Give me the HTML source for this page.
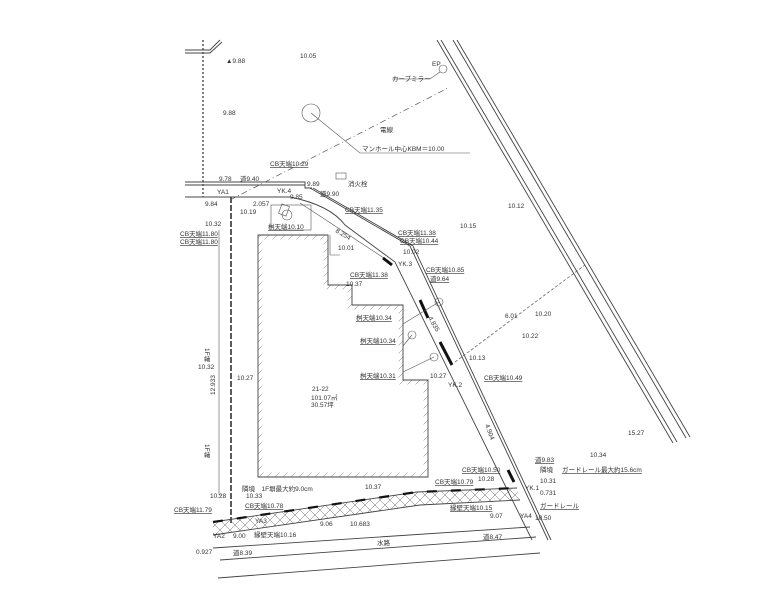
<!DOCTYPE html>
<html><head><meta charset="utf-8"><style>
html,body{margin:0;padding:0;background:#fff}
svg{display:block}
text{font-family:"Liberation Sans","Noto Sans CJK JP",sans-serif;fill:#333;font-size:6.5px}
.l{stroke:#444;stroke-width:0.9;fill:none}
.t{stroke:#555;stroke-width:0.6;fill:none}
</style></head><body>
<svg width="766" height="606" viewBox="0 0 766 606" xmlns="http://www.w3.org/2000/svg">
<defs>
<pattern id="x" width="10" height="10" patternUnits="userSpaceOnUse">
<path d="M0 0 L10 10 M10 0 L0 10" stroke="#666" stroke-width="0.5"/>
</pattern>
<pattern id="h" width="8" height="8" patternUnits="userSpaceOnUse">
<path d="M0 8 L8 0" stroke="#777" stroke-width="0.5"/>
</pattern>
<clipPath id="bc"><path d="M258 235 L328 235 L328 285 L352 285 L352 305 L403 305 L403 380 L428 380 L428 477 L258 477 Z"/></clipPath>
</defs>
<rect width="766" height="606" fill="#fff"/>
<path class="l" d="M437 40 L673 443 M441 40 L677 442 M453 40 L686 438 M457 40 L690 437"/>
<path class="l" d="M290 197 Q330 205 345 225 L395 262 L532 540 M310 188 L410 246 L548 540 M313 188 L413 246 L551 540"/>
<path class="t" d="M300 203 L390 262"/>
<path d="M383 258 L392 265 M420 300 L428 318 M440 342 L452 365 M508 470 L514 482" stroke="#111" stroke-width="3"/>
<path class="l" d="M185 182 L305 182 L305 188 L312 188 M185 185 L305 185 M185 197 L290 197"/>
<path class="l" d="M185 50 L210 50 L220 40 M185 53 L210 53 L222 42"/>
<path d="M203 40 L203 197" stroke="#555" stroke-width="1.5" stroke-dasharray="2 2"/>
<path d="M231 197 L231 525" stroke="#333" stroke-width="1.6" stroke-dasharray="6 2"/>
<path class="t" d="M219 230 L219 495 M219 495 L222 495"/>
<g clip-path="url(#bc)">
<path d="M258 235 L328 235 L328 285 L352 285 L352 305 L403 305 L403 380 L428 380 L428 477 L258 477 Z" fill="none" stroke="url(#h)" stroke-width="9"/>
</g>
<path class="l" d="M258 235 L328 235 L328 285 L352 285 L352 305 L403 305 L403 380 L428 380 L428 477 L258 477 Z"/>
<rect x="271" y="205" width="40" height="25" class="t"/>
<circle cx="287" cy="215" r="5" class="t"/>
<rect x="280" y="205" width="8" height="10" class="t" transform="rotate(20 284 210)"/>
<rect x="336" y="173" width="10" height="6" class="t"/>
<path class="t" d="M330 235 L330 255 L340 255"/>
<circle cx="311" cy="113" r="9" class="t"/>
<path class="t" d="M311 113 L360 153 L470 153"/>
<circle cx="443" cy="69" r="4" class="t"/>
<path class="t" d="M440 72 L430 79 L392 79"/>
<path d="M230 200 L448 88" stroke="#555" stroke-width="0.7" stroke-dasharray="6 3 1 3"/>
<path d="M455 362 L585 265" stroke="#555" stroke-width="0.7" stroke-dasharray="3 2"/>
<path d="M213 522 L417 492 L517 488 L520 500 L420 505 L213 535 Z" fill="url(#x)"/>
<path class="l" d="M213 522 L417 492 L517 488 M213 535 L420 505 L520 500"/>
<path d="M213 522 L417 492 L517 488" stroke="#111" stroke-width="2.2" stroke-dasharray="10 14" fill="none"/>
<path class="l" d="M213 548 L530 527 M220 560 L536 537 M218 578 L540 553"/>
<circle cx="439" cy="302" r="4" class="t"/><circle cx="412" cy="335" r="4" class="t"/><circle cx="434" cy="357" r="4" class="t"/>
<path class="t" d="M403 324 L439 302 M403 346 L412 335 M403 372 L434 357"/>
<text x="226" y="63">▲9.88</text><text x="300" y="58">10.05</text>
<text x="223" y="115">9.88</text><text x="392" y="81">カーブミラー</text><text x="432" y="66" font-size="5">EP</text>
<text x="380" y="132">電線</text>
<text x="362" y="151" font-size="10">マンホール中心KBM＝10.00</text>
<text x="270" y="166" text-decoration="underline">CB天端10.29</text>
<text x="219" y="181">9.78</text><text x="240" y="181">道9.40</text><text x="307" y="186">9.89</text>
<text x="217" y="194">YA1</text><text x="277" y="193">YK.4</text><text x="290" y="199">9.85</text>
<text x="348" y="186">消火栓</text><text x="320" y="196">道9.90</text>
<text x="205" y="206">9.84</text><text x="253" y="206" font-size="9">2.057</text><text x="240" y="214">10.19</text>
<text x="345" y="212" text-decoration="underline">CB天端11.35</text>
<text x="268" y="229" text-decoration="underline">桝天端10.10</text>
<text x="335" y="232" font-size="8" transform="rotate(30 335 232)">8.254</text>
<text x="205" y="226">10.32</text>
<text x="180" y="236" text-decoration="underline">CB天端11.80</text><text x="180" y="244" text-decoration="underline">CB天端11.80</text>
<text x="398" y="235" text-decoration="underline">CB天端11.38</text><text x="400" y="243" text-decoration="underline">CB天端10.44</text>
<text x="338" y="250">10.01</text><text x="403" y="254">10.02</text>
<text x="460" y="228">10.15</text><text x="508" y="208">10.12</text>
<text x="398" y="266">YK.3</text>
<text x="426" y="272" text-decoration="underline">CB天端10.85</text><text x="430" y="281" text-decoration="underline">道9.64</text>
<text x="350" y="277" text-decoration="underline">CB天端11.38</text><text x="346" y="286">10.37</text>
<text x="356" y="320" text-decoration="underline">桝天端10.34</text>
<text x="360" y="343" text-decoration="underline">桝天端10.34</text>
<text x="360" y="378" text-decoration="underline">桝天端10.31</text>
<text x="205" y="348" transform="rotate(90 205 348)">1F塀</text>
<text x="198" y="369">10.32</text><text x="237" y="380">10.27</text>
<text x="428" y="318" transform="rotate(60 428 318)">4.835</text>
<text x="505" y="318">6.01</text><text x="522" y="338">10.22</text><text x="535" y="316">10.20</text>
<text x="469" y="360">10.13</text>
<text x="430" y="378">10.27</text><text x="484" y="380" text-decoration="underline">CB天端10.49</text>
<text x="448" y="387">YK.2</text>
<text x="312" y="391" font-size="10">21-22</text>
<text x="311" y="400" font-size="6">101.07㎡</text><text x="311" y="407" font-size="6">30.57坪</text>
<text x="215" y="395" transform="rotate(-90 215 395)">12.933</text>
<text x="205" y="444" transform="rotate(90 205 444)">1F塀</text>
<text x="485" y="425" transform="rotate(70 485 425)">4.904</text>
<text x="628" y="435">15.27</text><text x="590" y="457">10.34</text>
<text x="535" y="462" text-decoration="underline">道9.83</text>
<text x="462" y="472" text-decoration="underline">CB天端10.50</text>
<text x="540" y="472">隣境</text><text x="562" y="472" text-decoration="underline">ガードレール最大約15.6cm</text>
<text x="478" y="481">10.28</text><text x="435" y="484" text-decoration="underline">CB天端10.79</text>
<text x="540" y="483">10.31</text><text x="525" y="490">YK.1</text>
<text x="242" y="491">隣境　1F塀最大約9.0cm</text><text x="365" y="489">10.37</text>
<text x="540" y="495" font-size="9">0.731</text>
<text x="210" y="498">10.28</text><text x="246" y="498">10.33</text>
<text x="245" y="508" text-decoration="underline">CB天端10.78</text>
<text x="174" y="512" text-decoration="underline">CB天端11.79</text>
<text x="450" y="510" text-decoration="underline">縁壁天端10.15</text>
<text x="540" y="508" text-decoration="underline">ガードレール</text>
<text x="255" y="523">YA3</text>
<text x="320" y="526">9.06</text><text x="350" y="526">10.683</text>
<text x="490" y="518">9.07</text><text x="520" y="518">YA4</text><text x="535" y="520">10.50</text>
<text x="213" y="538">YA2</text><text x="233" y="538">9.00</text>
<text x="254" y="537">縁壁天端10.16</text>
<text x="483" y="539">道8.47</text>
<text x="377" y="545">水路</text>
<text x="196" y="554" font-size="8">0.927</text><text x="233" y="555">道8.39</text>
</svg>
</body></html>
